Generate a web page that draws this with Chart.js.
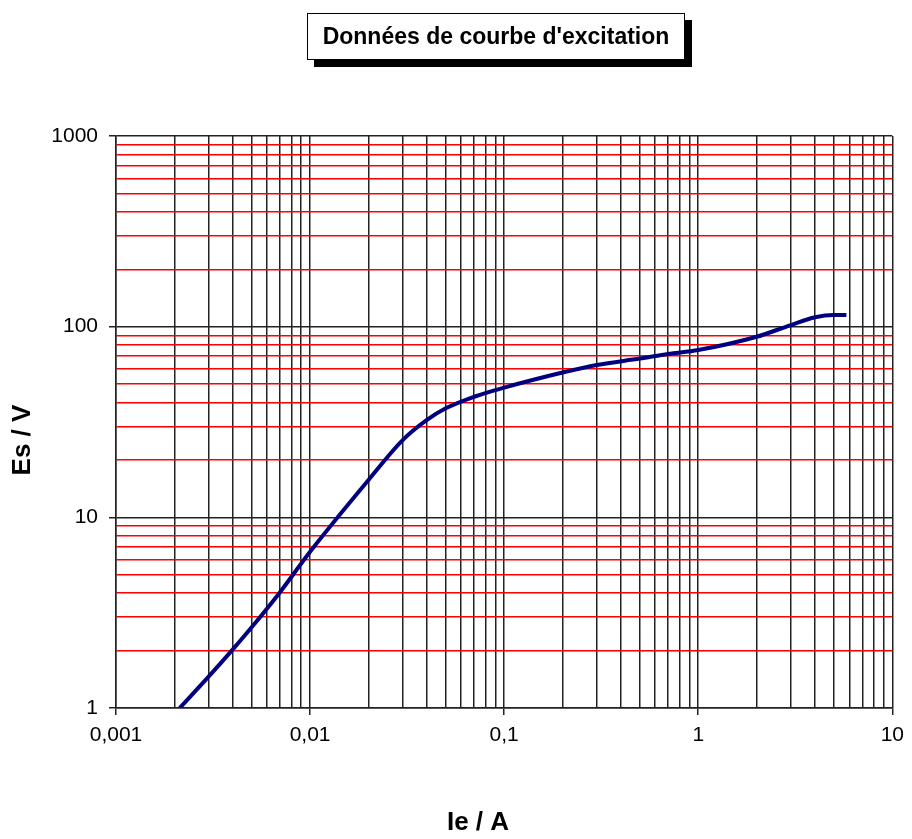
<!DOCTYPE html>
<html>
<head>
<meta charset="utf-8">
<script src="https://cdn.jsdelivr.net/npm/chart.js@4.4.0/dist/chart.umd.min.js"></script>
<style>
  body { margin: 0; background: #fff; }
  #wrap { position: relative; width: 912px; height: 839px; }
  #title {
    position: absolute; left: 307px; top: 13px; width: 376px; height: 45px;
    border: 1px solid #000; background: #fff; box-shadow: 7px 7px 0 #000;
    font: bold 23px "Liberation Sans", Arial, sans-serif; color: #000;
    text-align: center; line-height: 45px; white-space: nowrap;
  }
</style>
</head>
<body>
<div id="wrap">
  <canvas id="c" width="912" height="839"></canvas>
  <div id="title">Données de courbe d'excitation</div>
</div>
<script>
// courbe d'excitation (Ie en A, Es en V)
const ieValues = [0.00213, 0.003, 0.004, 0.005, 0.007, 0.01, 0.02, 0.03, 0.04, 0.05, 0.07, 0.1, 0.2, 0.3, 0.5, 0.7, 1, 2, 3, 4, 5, 5.8];
const esValues = [1, 1.46, 2.03, 2.65, 4.05, 6.6, 15.7, 25.4, 32.4, 37.3, 42.9, 47.9, 57.5, 63, 68, 71.8, 75.4, 88.5, 102, 112, 115, 115];

const xDecades = [0.001, 0.01, 0.1, 1, 10];
const yDecades = [1, 10, 100, 1000];

const xTitle = 'Ie / A';
const yTitle = 'Es / V';

function logTicks(decades) {
  const out = [];
  decades.forEach((d, i) => {
    if (i === decades.length - 1) { out.push(d); return; }
    for (let m = 1; m <= 9; m++) out.push(+(d * m).toPrecision(3));
  });
  return out;
}
const xTicks = logTicks(xDecades);
const yTicks = logTicks(yDecades);

function isDecade(v) {
  const l = Math.log10(v);
  return Math.abs(l - Math.round(l)) < 1e-6;
}
function frLabel(v) {
  return String(v).replace('.', ',');
}

const fam = '"Liberation Sans", Arial, sans-serif';
const font = { family: fam, size: 21 };

// axis titles drawn off-centre like the original sheet
const axisTitles = {
  id: 'axisTitles',
  afterDraw(chart) {
    const ctx = chart.ctx;
    ctx.save();
    ctx.fillStyle = '#000';
    ctx.font = 'bold 26px ' + fam;
    ctx.textAlign = 'center';
    ctx.textBaseline = 'middle';
    ctx.fillText(xTitle, 478, 823);
    ctx.translate(23, 440);
    ctx.rotate(-Math.PI / 2);
    ctx.fillText(yTitle, 0, 0);
    ctx.restore();
  }
};

new Chart(document.getElementById('c'), {
  type: 'scatter',
  data: {
    datasets: [{
      data: ieValues.map((x, i) => ({ x: x, y: esValues[i] })),
      showLine: true,
      borderColor: '#000080',
      borderWidth: 4,
      pointRadius: 0,
      cubicInterpolationMode: 'monotone'
    }]
  },
  plugins: [axisTitles],
  options: {
    responsive: false,
    animation: false,
    layout: { padding: { top: 136, right: 18, left: 0, bottom: 0 } },
    plugins: { legend: { display: false }, tooltip: { enabled: false } },
    scales: {
      x: {
        type: 'logarithmic',
        min: 0.001, max: 10,
        afterBuildTicks: s => { s.ticks = xTicks.map(v => ({ value: v })); },
        afterFit: s => { s.height = 131; },
        ticks: {
          autoSkip: false, maxRotation: 0, color: '#000', font: font, padding: 8,
          callback: v => isDecade(v) ? frLabel(v) : ''
        },
        grid: {
          color: '#222', lineWidth: 1.5, tickLength: 7,
          tickColor: c => isDecade(c.tick.value) ? '#222' : 'rgba(0,0,0,0)'
        },
        border: { color: '#222', width: 1.5 }
      },
      y: {
        type: 'logarithmic',
        min: 1, max: 1000,
        afterBuildTicks: s => { s.ticks = yTicks.map(v => ({ value: v })); },
        afterFit: s => { s.width = 116; },
        ticks: {
          autoSkip: false, color: '#000', font: font, padding: 11,
          callback: v => isDecade(v) ? frLabel(v) : ''
        },
        grid: {
          color: c => isDecade(c.tick.value) ? '#222' : '#ff0000',
          lineWidth: 1.5, tickLength: 7,
          tickColor: c => isDecade(c.tick.value) ? '#222' : 'rgba(0,0,0,0)'
        },
        border: { color: '#222', width: 1.5 }
      }
    }
  }
});
</script>
</body>
</html>
